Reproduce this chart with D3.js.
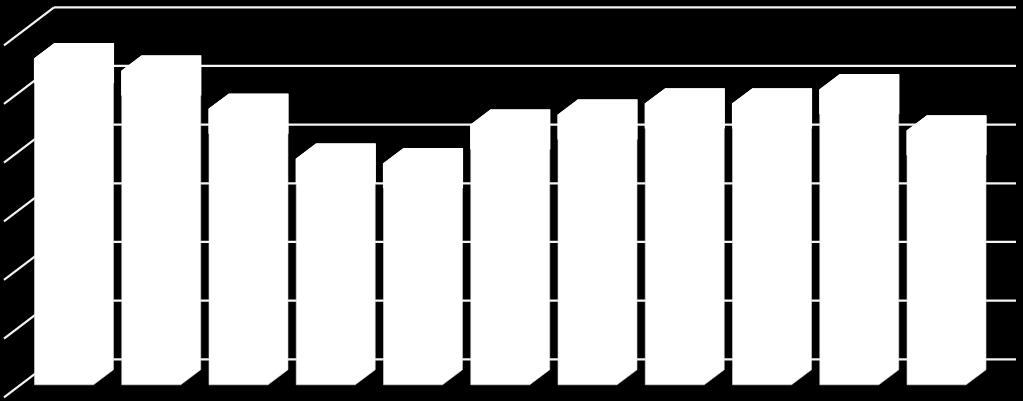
<!DOCTYPE html>
<html>
<head>
<meta charset="utf-8">
<script src="https://cdn.jsdelivr.net/npm/d3@7"></script>
<style>
html, body { margin: 0; padding: 0; background: #000; overflow: hidden; }
svg { display: block; }
</style>
</head>
<body>
<svg id="chart"></svg>
<script>
let categories = ['1', '2', '3', '4', '5', '6', '7', '8', '9', '10', '11'];
let values = [5.56, 5.35, 4.70, 3.85, 3.77, 4.43, 4.60, 4.79, 4.79, 5.03, 4.33];
let tickValues = [0, 1, 2, 3, 4, 5, 6];

let width = 1023;
let height = 401;

// 3d box: the back wall is shifted from the front of the floor by wallX/wallY
let wallLeft = 54;
let wallRight = 1016;
let wallX = 50;
let wallY = 38;
// bars stand inside the floor, with less depth than the floor
let barDepthX = 20;
let barDepthY = 15;
let barBase = 11; // back edge of a bar sits this far below the wall zero line
let capHeight = 24; // top part of a bar is drawn a bit fatter

let svg = d3.select('#chart').attr('width', width).attr('height', height);

let yScale = d3.scaleLinear().domain([0, 6]).range([358.8, 6.8]);
let xScale = d3.scaleBand()
    .domain(categories)
    .range([34.5, 986])
    .paddingInner(0.095)
    .paddingOuter(0);

/* grid lines on the back wall, drawn by the axis */
let yAxis = d3.axisLeft(yScale)
    .tickValues(tickValues)
    .tickSize(-(wallRight - wallLeft))
    .tickFormat('');

let axisG = svg.append('g')
    .attr('transform', 'translate(' + wallLeft + ',0)')
    .call(yAxis);
axisG.select('.domain').remove();
axisG.selectAll('line').attr('stroke', '#f4f4f4').attr('stroke-width', 2.2);

/* slanted part of each grid line, on the side wall */
svg.append('g')
    .selectAll('line')
    .data(tickValues)
    .enter()
    .append('line')
    .attr('x1', wallLeft - wallX)
    .attr('y1', (d) => yScale(d) + wallY + 0.5)
    .attr('x2', wallLeft)
    .attr('y2', (d) => yScale(d) + 0.5)
    .attr('stroke', '#f4f4f4')
    .attr('stroke-width', 2.2);

let barPath = (d, i) => {
    let x0 = xScale(categories[i]);
    let x1 = x0 + xScale.bandwidth();
    let top = yScale(d) + barBase;
    let bottom = yScale(0) + barBase;
    return d3.line()([
        [x0, top + barDepthY],
        [x0 + barDepthX, top],
        [x1, top],
        [x1, bottom],
        [x1 - barDepthX, bottom + barDepthY],
        [x0, bottom + barDepthY]
    ]) + 'Z';
};

let capPath = (d, i) => {
    let x0 = xScale(categories[i]);
    let x1 = x0 + xScale.bandwidth();
    let top = yScale(d) + barBase;
    return d3.line()([
        [x0, top + barDepthY],
        [x0 + barDepthX, top],
        [x1, top],
        [x1, top + barDepthY + capHeight],
        [x0, top + barDepthY + capHeight]
    ]) + 'Z';
};

svg.append('g')
    .selectAll('path')
    .data(values)
    .enter()
    .append('path')
    .attr('d', barPath)
    .attr('fill', '#fff')
    .attr('stroke', '#ddd')
    .attr('stroke-width', 0.6);

svg.append('g')
    .selectAll('path')
    .data(values)
    .enter()
    .append('path')
    .attr('d', capPath)
    .attr('fill', '#fff')
    .attr('stroke', '#fff')
    .attr('stroke-width', 1.2);
</script>
</body>
</html>
